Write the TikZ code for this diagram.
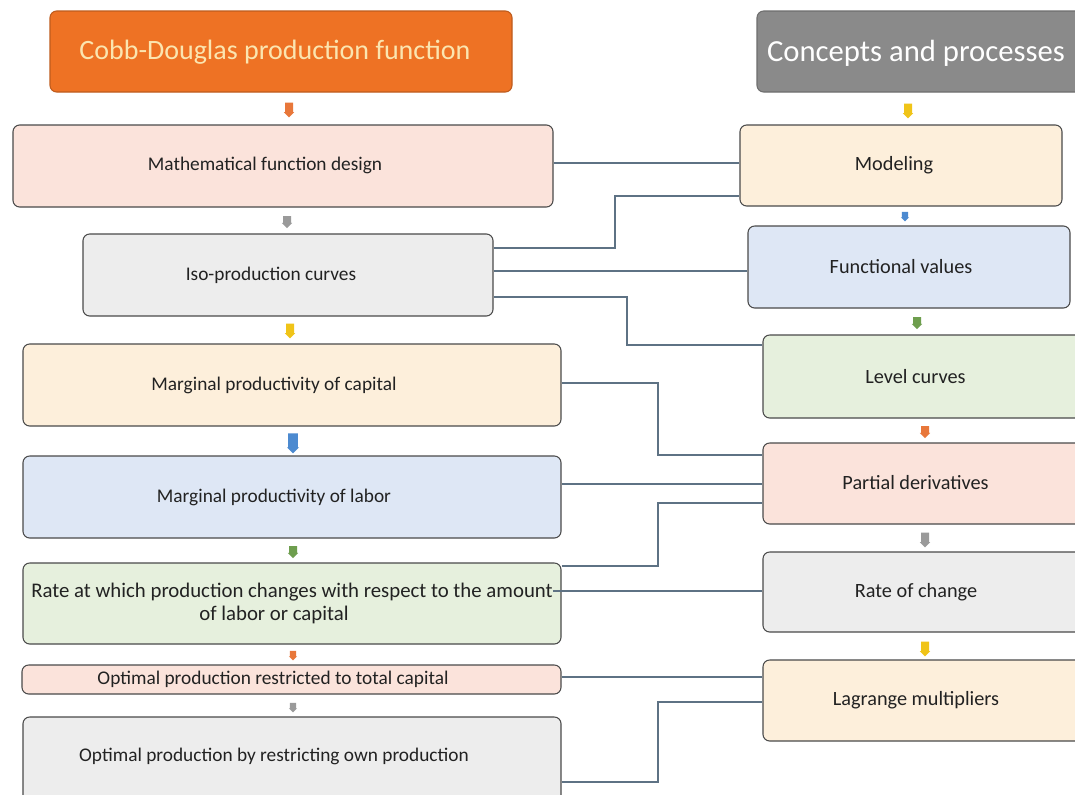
\documentclass[tikz,border=0pt]{standalone}
\usepackage{fontspec}
\setmainfont{Carlito}
\usetikzlibrary{fit,shapes.arrows}
\definecolor{boxline}{HTML}{4A4A4A}
\definecolor{txt}{HTML}{222222}
\definecolor{linkc}{HTML}{5E7284}
\definecolor{ttlorange}{HTML}{EE7224}
\definecolor{ttltext}{HTML}{FBE5B0}
\definecolor{ttlgray}{HTML}{8A8A8A}
\definecolor{fpink}{HTML}{FBE3DB}
\definecolor{fgray}{HTML}{EDEDED}
\definecolor{forange}{HTML}{FDEFDB}
\definecolor{fblue}{HTML}{DEE7F5}
\definecolor{fgreen}{HTML}{E6F0DD}
\definecolor{aorange}{HTML}{E8773A}
\definecolor{agray}{HTML}{9A9A9A}
\definecolor{ayellow}{HTML}{F0C418}
\definecolor{ablue}{HTML}{4C8AD0}
\definecolor{agreen}{HTML}{6E9E4E}
\begin{document}
\begin{tikzpicture}[x=0.75pt,y=-0.75pt,
  box/.style={draw=boxline, line width=0.8pt, rounded corners=5pt, inner sep=0pt},
  lbl/.style={font=\fontsize{14.5}{17}\selectfont, text=txt, align=center, inner sep=0pt},
  rlbl/.style={lbl, font=\fontsize{15.2}{18}\selectfont},
  link/.style={draw=linkc, line width=0.8pt},
  darr/.style={single arrow, draw=none, shape border rotate=270, minimum height=11pt,
    minimum width=7.5pt, single arrow head extend=0.9pt, inner sep=2.8pt},
  sarr/.style={darr, minimum height=6pt, minimum width=6pt, inner sep=2.2pt, single arrow head extend=0.7pt}]
\useasboundingbox (0,0) rectangle (1075,794);
\clip (0,0) rectangle (1075,794);
\fill[white] (0,0) rectangle (1075,794);
% left column
\node[box, fill=ttlorange, draw=ttlorange!80!black, fit={(50,11) (512,92)}] (cd) {};
\node[lbl, font=\fontsize{21}{24}\selectfont, text=ttltext] (cdt) at (275,52) {Cobb-Douglas production function};
\node[box, fill=fpink, fit={(13,125) (553,207)}] (math) {};
\node[lbl] (matht) at (265,165) {Mathematical function design};
\node[box, fill=fgray, fit={(83,234) (493,316)}] (iso) {};
\node[lbl] (isot) at (271,275) {Iso-production curves};
\node[box, fill=forange, fit={(23,344) (561,426)}] (mpk) {};
\node[lbl] (mpkt) at (274,385) {Marginal productivity of capital};
\node[box, fill=fblue, fit={(23,456) (561,538)}] (mpl) {};
\node[lbl] (mplt) at (274,497) {Marginal productivity of labor};
\node[box, fill=fgreen, fit={(23,563) (561,644)}] (rate) {};
\node[lbl, font=\fontsize{15.6}{17.5}\selectfont] (ratet1) at (292,592) {Rate at which production changes with respect to the amount};
\node[lbl, font=\fontsize{15.6}{17.5}\selectfont] (ratet2) at (274,615) {of labor or capital};
\node[box, fill=fpink, fit={(22,665) (561,694)}] (optc) {};
\node[lbl] (optct) at (273,679) {Optimal production restricted to total capital};
\node[box, fill=fgray, fit={(23,717) (561,812)}] (opto) {};
\node[lbl] (optot) at (274,756) {Optimal production by restricting own production};
% right column
\node[box, fill=ttlgray, draw=ttlgray!80!black, fit={(757,11) (1085,92)}] (cp) {};
\node[lbl, font=\fontsize{23}{26}\selectfont, text=white] (cpt) at (916,53) {Concepts and processes};
\node[box, fill=forange, fit={(740,125) (1062,206)}] (mod) {};
\node[rlbl] (modt) at (894,165) {Modeling};
\node[box, fill=fblue, fit={(748,226) (1070,308)}] (fv) {};
\node[rlbl] (fvt) at (901,267) {Functional values};
\node[box, fill=fgreen, fit={(763,335) (1085,418)}] (lc) {};
\node[rlbl] (lct) at (915.5,377) {Level curves};
\node[box, fill=fpink, fit={(763,443) (1085,524)}] (pd) {};
\node[rlbl] (pdt) at (915.5,483) {Partial derivatives};
\node[box, fill=fgray, fit={(763,552) (1085,632)}] (roc) {};
\node[rlbl] (roct) at (916,592) {Rate of change};
\node[box, fill=forange, fit={(763,660) (1085,741)}] (lm) {};
\node[rlbl] (lmt) at (916,700) {Lagrange multipliers};
% small block arrows
\node[darr, fill=aorange] (a1) at (289,108) {};
\node[darr, fill=agray, minimum height=9pt] (a2) at (287,220) {};
\node[darr, fill=ayellow] (a3) at (290,329) {};
\node[darr, fill=ablue, minimum height=15pt, minimum width=9pt, inner sep=3.4pt] (a4) at (293,441) {};
\node[darr, fill=agreen, minimum height=9pt] (a5) at (293,550) {};
\node[sarr, fill=aorange] (a6) at (293,654) {};
\node[sarr, fill=agray] (a7) at (293,706) {};
\node[darr, fill=ayellow] (b1) at (908,109) {};
\node[sarr, fill=ablue] (b2) at (905,215) {};
\node[darr, fill=agreen, minimum height=9pt] (b3) at (917,321) {};
\node[darr, fill=aorange, minimum height=9pt] (b4) at (925,430) {};
\node[darr, fill=agray] (b5) at (925,538) {};
\node[darr, fill=ayellow] (b6) at (925,647) {};
% connectors
\draw[link] (math.east |- 0,163) -- (mod.west |- 0,163);
\draw[link] (iso.east |- 0,248) -- (615,248) |- (mod.west |- 0,196);
\draw[link] (iso.east |- 0,271) -- (fv.west |- 0,271);
\draw[link] (iso.east |- 0,297) -- (627,297) |- (lc.west |- 0,345);
\draw[link] (mpk.east |- 0,383) -- (658,383) |- (pd.west |- 0,455);
\draw[link] (mpl.east |- 0,484) -- (pd.west |- 0,484);
\draw[link] (rate.east |- 0,566) -- (658,566) |- (pd.west |- 0,503);
\draw[link] (ratet1.east |- 0,591) -- (roc.west |- 0,591);
\draw[link] (optc.east |- 0,677) -- (lm.west |- 0,677);
\draw[link] (opto.east |- 0,782) -- (658,782) |- (lm.west |- 0,702);
\end{tikzpicture}
\end{document}
